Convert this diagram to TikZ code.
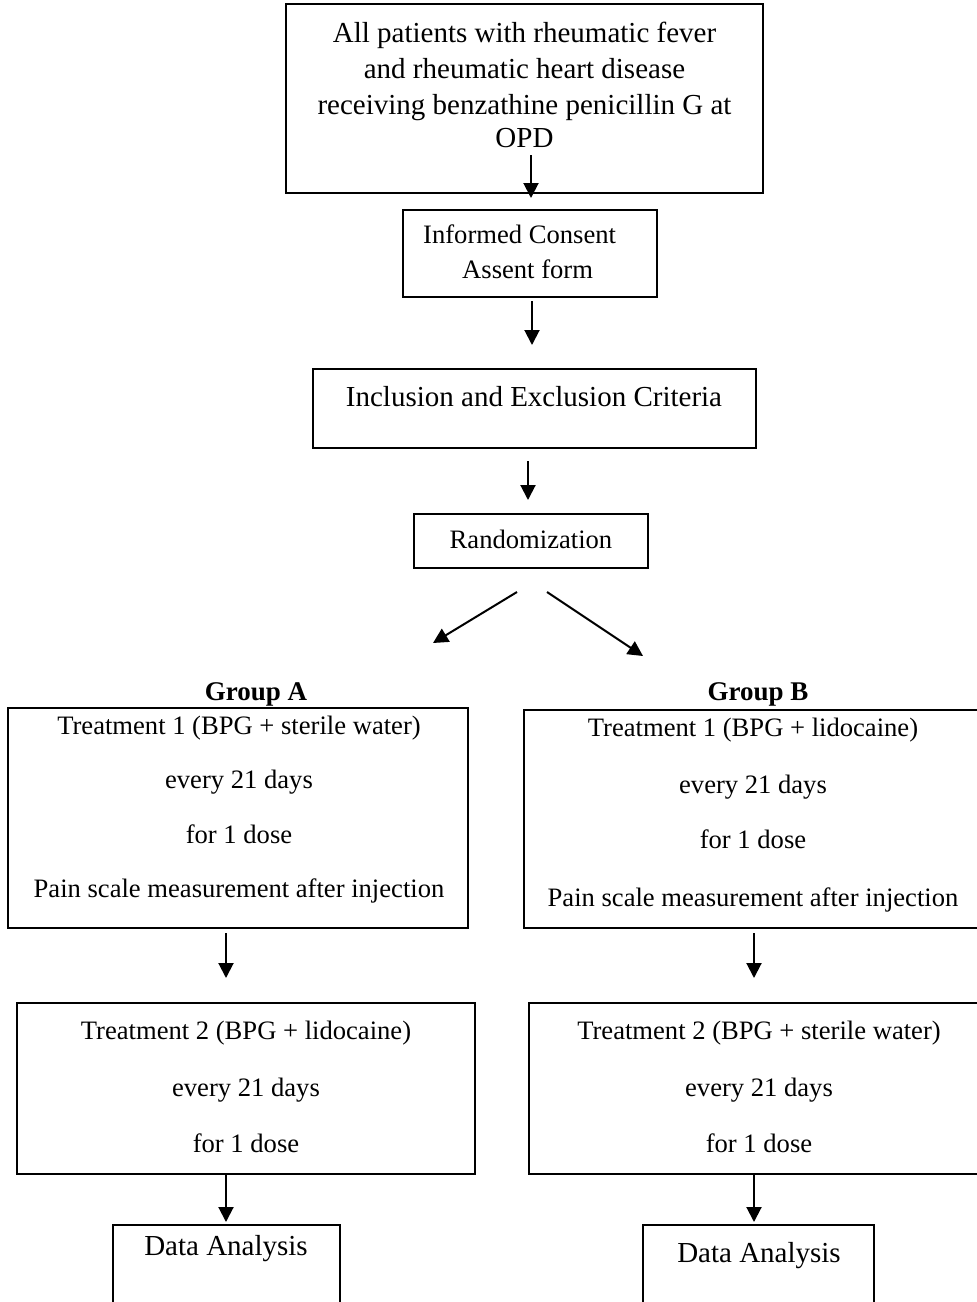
\documentclass[tikz,border=0pt]{standalone}
\usepackage{fontspec}
\setmainfont{Liberation Serif}
\usetikzlibrary{arrows.meta}
\tikzset{
  box/.style={draw, line width=1.7pt, inner sep=0pt, outer sep=0pt},
  big/.style={inner sep=0pt, anchor=base, font=\fontsize{29}{35}\selectfont},
  small/.style={inner sep=0pt, anchor=base, font=\fontsize{26.6}{32}\selectfont},
  grp/.style={inner sep=0pt, anchor=base, font=\fontsize{27}{32}\selectfont\bfseries},
  arr/.style={line width=2pt, -{Triangle[length=15pt,width=15pt]}}
}
\begin{document}
\begin{tikzpicture}[x=1pt,y=-1pt]
\useasboundingbox (0,0) rectangle (977,1302);
\clip (0,0) rectangle (977,1302);
% boxes
\node[box, minimum width=477pt, minimum height=189pt] (top) at (524.5,98.5) {};
\node[box, minimum width=254pt, minimum height=87pt] (ic) at (530,253.5) {};
\node[box, minimum width=443pt, minimum height=79pt] (inc) at (534.5,408.5) {};
\node[box, minimum width=234pt, minimum height=54pt] (rnd) at (531,541) {};
\node[box, minimum width=460pt, minimum height=220pt] (a1) at (238,818) {};
\node[box, minimum width=466pt, minimum height=218pt] (b1) at (757,819) {};
\node[box, minimum width=458pt, minimum height=171pt] (a2) at (246,1088.5) {};
\node[box, minimum width=461pt, minimum height=171pt] (b2) at (759.5,1088.5) {};
\node[box, minimum width=227pt, minimum height=95pt] (a3) at (226.5,1272.5) {};
\node[box, minimum width=231pt, minimum height=95pt] (b3) at (758.5,1272.5) {};
% texts
\node[big] (t1) at (524.5,42) {All patients with rheumatic fever};
\node[big] (t2) at (524.5,78) {and rheumatic heart disease};
\node[big] (t3) at (524.5,114) {receiving benzathine penicillin G at};
\node[big] (t4) at (524.5,147) {OPD};
\node[small, anchor=base west] (ic1) at (423,243) {Informed Consent};
\node[small, anchor=base west] (ic2) at (462,278) {Assent form};
\node[big] (inct) at (534,406) {Inclusion and Exclusion Criteria};
\node[small] (rndt) at (531,548) {Randomization};
\node[grp] (ga) at (256,700) {Group A};
\node[grp] (gb) at (758,700) {Group B};
\node[small] (a1l1) at (239,734) {Treatment 1 (BPG + sterile water)};
\node[small] (a1l2) at (239,788) {every 21 days};
\node[small] (a1l3) at (239,843) {for 1 dose};
\node[small] (a1l4) at (239,897) {Pain scale measurement after injection};
\node[small] (b1l1) at (753,736) {Treatment 1 (BPG + lidocaine)};
\node[small] (b1l2) at (753,793) {every 21 days};
\node[small] (b1l3) at (753,848) {for 1 dose};
\node[small] (b1l4) at (753,906) {Pain scale measurement after injection};
\node[small] (a2l1) at (246,1039) {Treatment 2 (BPG + lidocaine)};
\node[small] (a2l2) at (246,1096) {every 21 days};
\node[small] (a2l3) at (246,1152) {for 1 dose};
\node[small] (b2l1) at (759,1039) {Treatment 2 (BPG + sterile water)};
\node[small] (b2l2) at (759,1096) {every 21 days};
\node[small] (b2l3) at (759,1152) {for 1 dose};
\node[big] (a3t) at (226,1255) {Data Analysis};
\node[big] (b3t) at (759,1262) {Data Analysis};
% connector ends
\coordinate (c1s) at (531,155);  \coordinate (c1e) at (531,198);
\coordinate (c2s) at (532,301);  \coordinate (c2e) at (532,345);
\coordinate (c3s) at (528,461);  \coordinate (c3e) at (528,500);
\coordinate (c4s) at (517,592);  \coordinate (c4e) at (433,643);
\coordinate (c5s) at (547,592);  \coordinate (c5e) at (643,656);
\coordinate (c6s) at (226,933);  \coordinate (c6e) at (226,978);
\coordinate (c7s) at (754,933);  \coordinate (c7e) at (754,978);
\coordinate (c8e) at (226,1222);
\coordinate (c9e) at (754,1222);
% connectors
\draw[arr] (c1s) -- (c1e);
\draw[arr] (c2s) -- (c2e);
\draw[arr] (c3s) -- (c3e);
\draw[arr] (c4s) -- (c4e);
\draw[arr] (c5s) -- (c5e);
\draw[arr] (c6s) -- (c6e);
\draw[arr] (c7s) -- (c7e);
\draw[arr] (a2.south -| c8e) -- (c8e);
\draw[arr] (b2.south -| c9e) -- (c9e);
\end{tikzpicture}
\end{document}
